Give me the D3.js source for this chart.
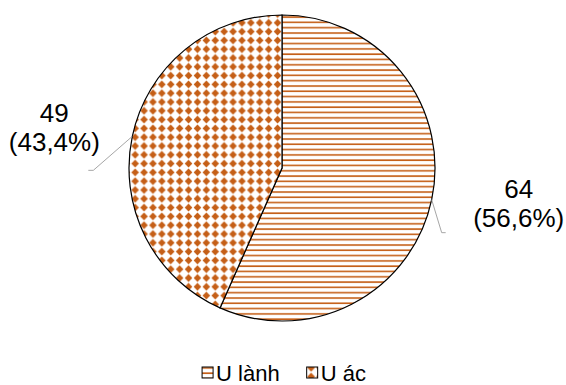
<!DOCTYPE html>
<html>
<head>
<meta charset="utf-8">
<script src="https://cdn.jsdelivr.net/npm/d3@7"></script>
<style>
  html, body { margin: 0; padding: 0; background: #fff; }
  svg { display: block; font-family: "Liberation Sans", Arial, sans-serif; }
</style>
</head>
<body>
<svg id="chart" width="566" height="385"></svg>
<script>
// Tumour type counts
const categories = ["U lành", "U ác"];
const counts = [64, 49];
const percentLabels = ["56,6%", "43,4%"];
const patternIds = ["stripes", "diamonds"];

const cx = 282, cy = 168, R = 153;
const orange = "#c55f17";

const svg = d3.select("#chart");
const defs = svg.append("defs");

// Horizontal line fill
const pStripe = defs.append("pattern")
  .attr("id", "stripes").attr("patternUnits", "userSpaceOnUse")
  .attr("width", 10).attr("height", 5.3);
pStripe.append("rect").attr("width", 10).attr("height", 5.3).attr("fill", "#fff");
pStripe.append("rect").attr("y", 2).attr("width", 10).attr("height", 1.6).attr("fill", orange);

// Diamond grid fill
const pw = 8.9, ph = 8.8;
const pDia = defs.append("pattern")
  .attr("id", "diamonds").attr("patternUnits", "userSpaceOnUse")
  .attr("width", pw).attr("height", ph);
pDia.append("rect").attr("width", pw).attr("height", ph).attr("fill", "#fff");
pDia.append("path")
  .attr("d", `M${pw/2},${ph/2-3.8} L${pw/2+3.8},${ph/2} L${pw/2},${ph/2+3.8} L${pw/2-3.8},${ph/2} Z`)
  .attr("fill", orange);

const data = categories.map((c, i) => ({ name: c, value: counts[i], pct: percentLabels[i], pat: patternIds[i] }));

const pie = d3.pie().sort(null).value(d => d.value);
const arcs = pie(data);
const arc = d3.arc().innerRadius(0).outerRadius(R);

const g = svg.append("g").attr("transform", `translate(${cx},${cy})`);

g.selectAll("path.slice")
  .data(arcs)
  .join("path")
  .attr("class", "slice")
  .attr("d", arc)
  .attr("fill", d => `url(#${d.data.pat})`)
  .attr("stroke", "#000")
  .attr("stroke-width", 1.2);

// Leader lines and value labels, placed relative to each slice's outer midpoint
const labelLayout = [
  { dx: 10, dy: 33, tail: 4, tx: 87, ty: -2 },     // right-hand label
  { dx: -39, dy: 34, tail: -5, tx: -78, ty: -14 }  // left-hand label
];
const lineGap = 29;

arcs.forEach((a, i) => {
  const mid = (a.startAngle + a.endAngle) / 2;
  const ex = Math.sin(mid) * R, ey = -Math.cos(mid) * R;
  const s = labelLayout[i];
  g.append("polyline")
    .attr("points", [[ex, ey], [ex + s.dx, ey + s.dy], [ex + s.dx + s.tail, ey + s.dy]].map(p => p.join(",")).join(" "))
    .attr("fill", "none")
    .attr("stroke", "#a6a6a6")
    .attr("stroke-width", 1);

  const lx = ex + s.tx, ly = ey + s.ty;
  [String(a.data.value), `(${a.data.pct})`].forEach((line, k) => {
    g.append("text")
      .attr("x", lx).attr("y", ly + k * lineGap)
      .attr("text-anchor", "middle")
      .attr("font-size", 26)
      .attr("fill", "#000")
      .text(line);
  });
});

// Legend
const legend = svg.append("g");
const fs = 22, box = 11, gapBox = 3, gapItem = 27;
let x = 0;
data.forEach(d => {
  const it = legend.append("g").attr("transform", `translate(${x},0)`);
  it.append("rect")
    .attr("x", 0).attr("y", -box - 3)
    .attr("width", box).attr("height", box)
    .attr("fill", `url(#${d.pat})`)
    .attr("stroke", "#000").attr("stroke-width", 1);
  const tx = it.append("text")
    .attr("x", box + gapBox).attr("y", 0)
    .attr("font-size", fs).attr("fill", "#000")
    .text(d.name);
  const w = tx.node().getComputedTextLength();
  x += box + gapBox + w + gapItem;
});
const totalW = x - gapItem;
legend.attr("transform", `translate(${cx + 2 - totalW / 2},381)`);
</script>
</body>
</html>
